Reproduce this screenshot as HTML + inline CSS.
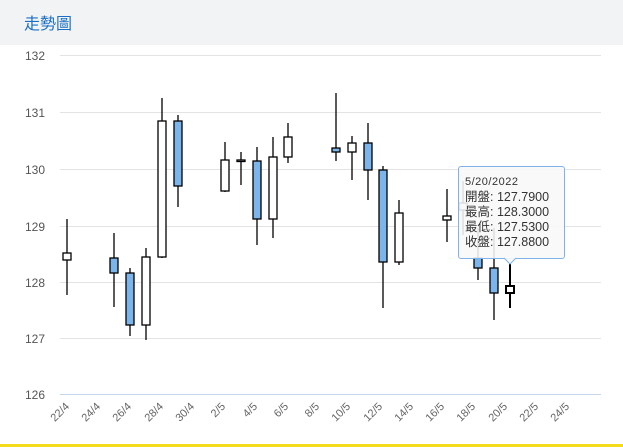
<!DOCTYPE html>
<html><head><meta charset="utf-8"><style>
body{margin:0;width:623px;height:447px;overflow:hidden;background:#fff;font-family:"Liberation Sans","Noto Sans CJK TC",sans-serif}
.hd{position:absolute;left:0;top:0;width:623px;height:45px;background:#f2f3f5}
.hd span{position:absolute;left:24px;top:10px;font-size:16px;color:#1a6fc4}
.tt{position:absolute;left:458px;top:166px;width:105px;height:91px;border:1px solid #7db3e8;border-radius:3px;background:rgba(248,248,248,0.88);font-size:12.5px;color:#333;line-height:15px;padding:0}
.tt div{position:absolute;left:6px}
.bl{position:absolute;left:0;top:444px;width:623px;height:3px;background:#f5dc1a}
</style></head><body>
<div class="hd"><span>走勢圖</span></div>
<svg width="623" height="447" style="position:absolute;left:0;top:0">
<g stroke="#e3e3e3" stroke-width="1">
<line x1="60" x2="601" y1="55.5" y2="55.5"/><line x1="60" x2="601" y1="112.5" y2="112.5"/><line x1="60" x2="601" y1="169.5" y2="169.5"/><line x1="60" x2="601" y1="226.5" y2="226.5"/><line x1="60" x2="601" y1="282.5" y2="282.5"/><line x1="60" x2="601" y1="338.5" y2="338.5"/>
</g>
<line x1="60" x2="601" y1="394.5" y2="394.5" stroke="#c5d5ea"/>
<g font-size="12" fill="#555" text-anchor="end">
<text x="45" y="60">132</text><text x="45" y="117">131</text><text x="45" y="174">130</text><text x="45" y="231">129</text><text x="45" y="287">128</text><text x="45" y="343">127</text><text x="45" y="399">126</text>
</g>
<g font-size="11" fill="#666" text-anchor="end">
<text transform="translate(70,407) rotate(-45)">22/4</text>
<text transform="translate(101,407) rotate(-45)">24/4</text>
<text transform="translate(132,407) rotate(-45)">26/4</text>
<text transform="translate(164,407) rotate(-45)">28/4</text>
<text transform="translate(195,407) rotate(-45)">30/4</text>
<text transform="translate(226,407) rotate(-45)">2/5</text>
<text transform="translate(258,407) rotate(-45)">4/5</text>
<text transform="translate(289,407) rotate(-45)">6/5</text>
<text transform="translate(320,407) rotate(-45)">8/5</text>
<text transform="translate(351,407) rotate(-45)">10/5</text>
<text transform="translate(383,407) rotate(-45)">12/5</text>
<text transform="translate(414,407) rotate(-45)">14/5</text>
<text transform="translate(445,407) rotate(-45)">16/5</text>
<text transform="translate(476,407) rotate(-45)">18/5</text>
<text transform="translate(508,407) rotate(-45)">20/5</text>
<text transform="translate(539,407) rotate(-45)">22/5</text>
<text transform="translate(570,407) rotate(-45)">24/5</text>
</g>
<g stroke="#000" stroke-width="1.3">
<line x1="67" x2="67" y1="219" y2="295"/><rect x="63" y="253" width="8" height="7" fill="#fff"/>
<line x1="114" x2="114" y1="233" y2="307"/><rect x="110" y="258" width="8" height="15" fill="#7cb5ec"/>
<line x1="130" x2="130" y1="268" y2="336"/><rect x="126" y="273" width="8" height="52" fill="#7cb5ec"/>
<line x1="146" x2="146" y1="248" y2="340"/><rect x="142" y="257" width="8" height="68" fill="#fff"/>
<line x1="162" x2="162" y1="98" y2="258"/><rect x="158" y="121" width="8" height="136" fill="#fff"/>
<line x1="178" x2="178" y1="115" y2="207"/><rect x="174" y="121" width="8" height="65" fill="#7cb5ec"/>
<line x1="225" x2="225" y1="142" y2="192"/><rect x="221" y="160" width="8" height="31" fill="#fff"/>
<line x1="241" x2="241" y1="152" y2="185"/><rect x="237" y="160" width="8" height="1.5" fill="#fff"/>
<line x1="257" x2="257" y1="147" y2="245"/><rect x="253" y="161" width="8" height="58" fill="#7cb5ec"/>
<line x1="273" x2="273" y1="137" y2="238"/><rect x="269" y="157" width="8" height="62" fill="#fff"/>
<line x1="288" x2="288" y1="123" y2="163"/><rect x="284" y="137" width="8" height="20" fill="#fff"/>
<line x1="336" x2="336" y1="93" y2="161"/><rect x="332" y="148" width="8" height="4" fill="#7cb5ec"/>
<line x1="352" x2="352" y1="136" y2="180"/><rect x="348" y="143" width="8" height="9" fill="#fff"/>
<line x1="368" x2="368" y1="123" y2="200"/><rect x="364" y="143" width="8" height="27" fill="#7cb5ec"/>
<line x1="383" x2="383" y1="166" y2="308"/><rect x="379" y="170" width="8" height="92" fill="#7cb5ec"/>
<line x1="399" x2="399" y1="200" y2="265"/><rect x="395" y="213" width="8" height="49" fill="#fff"/>
<line x1="447" x2="447" y1="189" y2="242"/><rect x="443" y="216" width="8" height="4" fill="#fff"/>
<line x1="463" x2="463" y1="181" y2="235"/><rect x="459" y="203" width="8" height="7" fill="#fff"/>
<line x1="478" x2="478" y1="228" y2="280"/><rect x="474" y="258" width="8" height="10" fill="#7cb5ec"/>
<line x1="494" x2="494" y1="228" y2="320"/><rect x="490" y="268" width="8" height="25" fill="#7cb5ec"/>
<line x1="510" x2="510" y1="264" y2="308" stroke-width="2"/><rect x="506" y="286" width="8" height="7" fill="#fff" stroke-width="2"/>
</g>
</svg>
<div class="tt">
<div style="top:8px;font-size:11px;letter-spacing:0.5px">5/20/2022</div>
<div style="top:23px">開盤: 127.7900</div>
<div style="top:38px">最高: 128.3000</div>
<div style="top:53px">最低: 127.5300</div>
<div style="top:68px">收盤: 127.8800</div>
</div>
<svg width="623" height="447" style="position:absolute;left:0;top:0"><path d="M504 258 L510 264 L516 258" fill="rgba(248,248,248,0.9)" stroke="#7db3e8"/></svg>
<div class="bl"></div>
</body></html>
